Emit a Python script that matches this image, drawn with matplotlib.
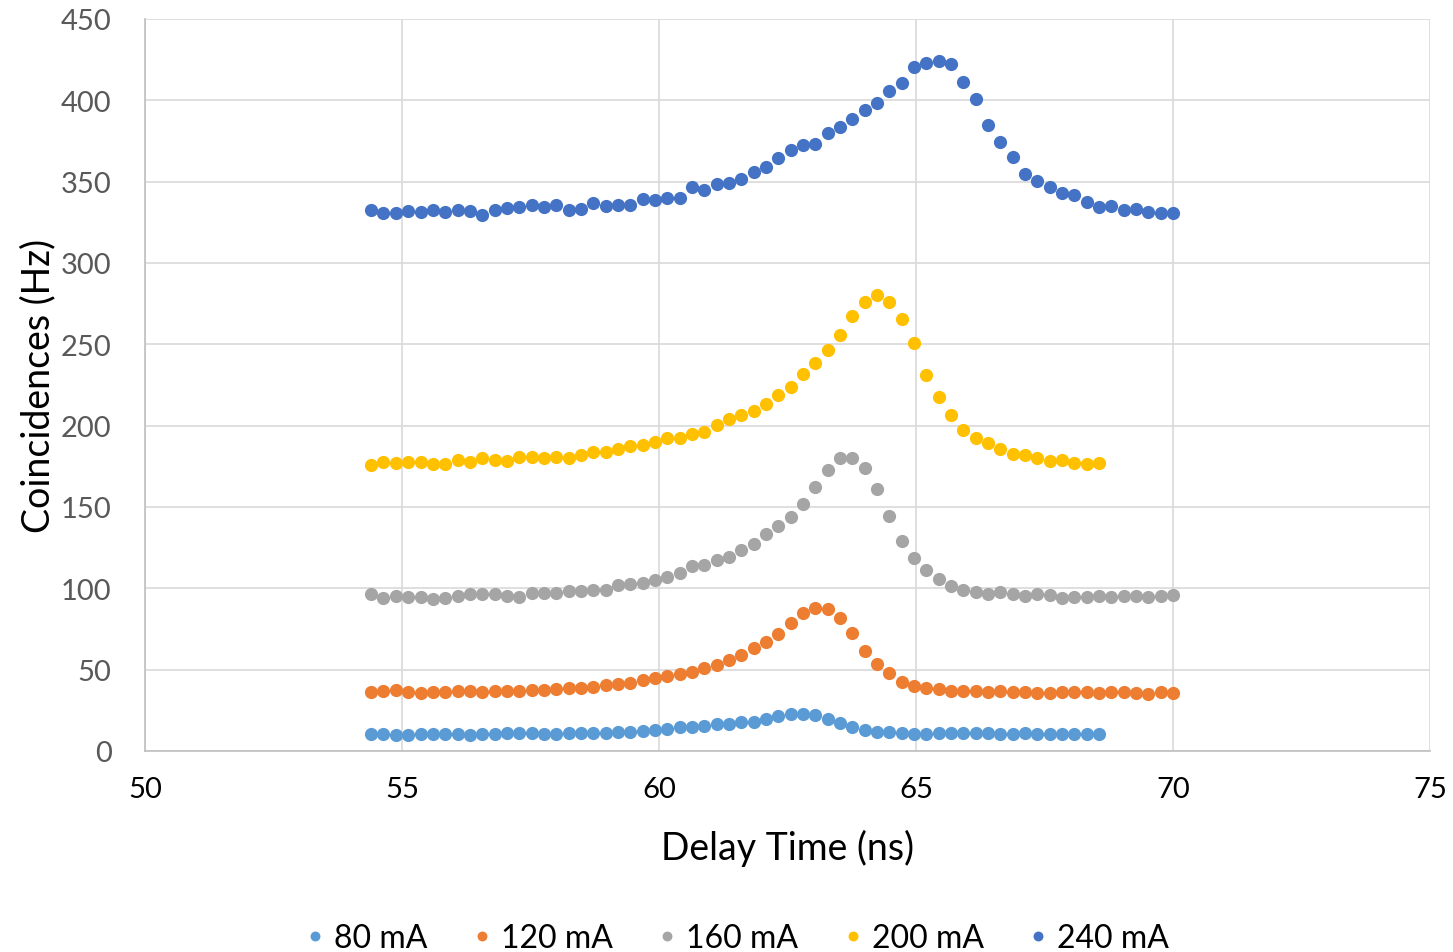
import numpy as np
import matplotlib
matplotlib.use("Agg")
import matplotlib.pyplot as plt

plt.rcParams['font.family'] = ['Lato', 'DejaVu Sans']

# delay time axis (ns): 0.24 ns steps from 54.4
x_long = 54.4 + 0.24 * np.arange(66)   # up to 70.0
x_short = x_long[:60]                  # up to 68.56

y_80 = [10.2, 10.5, 10.0, 10.0, 10.5, 10.5, 10.5, 10.5, 10.0, 10.2,
        10.7, 10.9, 10.9, 10.9, 10.5, 10.7, 11.1, 11.3, 11.3, 11.3,
        11.9, 11.7, 12.5, 12.9, 13.7, 14.8, 14.8, 15.6, 16.4, 16.6,
        17.6, 17.8, 19.9, 21.5, 22.9, 22.5, 22.1, 19.7, 17.0, 14.9,
        12.9, 11.5, 11.5, 10.9, 10.5, 10.5, 10.9, 10.9, 10.9, 10.9,
        10.9, 10.2, 10.7, 11.1, 10.5, 10.2, 10.2, 10.7, 10.2, 10.7]

y_120 = [36.5, 36.9, 37.5, 36.5, 35.9, 36.3, 36.1, 36.7, 36.7, 36.5,
         36.9, 36.9, 36.9, 37.3, 37.7, 38.1, 38.5, 38.7, 39.3, 40.6,
         41.2, 41.8, 43.8, 44.7, 45.9, 47.1, 48.8, 50.8, 53.1, 55.7,
         59.0, 63.1, 66.8, 72.1, 78.9, 84.6, 88.1, 87.3, 81.6, 72.5,
         61.3, 53.3, 47.8, 42.2, 40.0, 38.9, 38.1, 37.1, 36.7, 36.7,
         36.5, 36.7, 36.5, 36.5, 35.9, 35.9, 36.5, 36.5, 36.1, 35.9,
         36.3, 36.3, 35.9, 35.2, 36.3, 35.9]

y_160 = [96.5, 94.1, 95.1, 94.9, 94.5, 93.6, 94.3, 95.3, 96.5, 96.7,
         96.3, 95.1, 94.7, 97.3, 97.3, 97.1, 98.2, 98.6, 99.2, 99.2,
         102.3, 102.7, 103.3, 105.1, 107.2, 109.2, 113.5, 114.5, 117.2, 119.4,
         123.6, 127.2, 133.6, 138.1, 143.8, 152.0, 162.5, 172.9, 180.1, 180.1,
         174.2, 161.1, 144.5, 129.3, 118.6, 111.3, 105.7, 101.2, 98.8, 97.7,
         96.5, 97.5, 96.5, 95.5, 96.3, 96.1, 94.3, 94.7, 94.7, 95.3,
         94.7, 95.3, 95.1, 94.9, 95.3, 95.7]

y_200 = [175.8, 177.7, 177.3, 177.7, 177.5, 176.2, 176.4, 179.1, 177.9, 179.9,
         179.1, 178.5, 180.5, 180.9, 179.9, 180.9, 180.3, 182.2, 184.0, 183.6,
         185.9, 187.3, 187.9, 190.0, 192.4, 192.6, 194.9, 196.3, 200.4, 203.9,
         206.8, 208.9, 213.2, 218.6, 223.6, 231.6, 238.3, 246.7, 255.7, 267.6,
         275.8, 280.5, 275.8, 265.3, 250.6, 231.1, 217.4, 206.4, 197.3, 192.4,
         189.2, 185.7, 182.6, 182.2, 179.9, 178.5, 178.7, 176.9, 176.2, 176.9]

y_240 = [332.6, 330.7, 330.5, 332.0, 331.5, 332.4, 331.2, 332.4, 331.8, 329.5,
         332.8, 333.6, 334.2, 335.4, 334.2, 335.6, 332.4, 333.0, 336.7, 335.2,
         335.6, 335.4, 339.1, 339.0, 339.8, 340.2, 346.7, 345.1, 348.4, 349.0,
         351.8, 355.9, 359.0, 364.3, 369.2, 372.5, 372.9, 379.7, 383.8, 388.5,
         393.8, 398.5, 405.5, 410.6, 420.3, 423.1, 424.0, 422.3, 411.3, 400.6,
         385.0, 374.6, 364.9, 354.9, 350.2, 346.5, 343.2, 342.0, 337.5, 334.6,
         335.0, 332.4, 333.0, 331.1, 330.9, 330.9]

labels = ["80 mA", "120 mA", "160 mA", "200 mA", "240 mA"]
colors = ["#5B9BD5", "#ED7D31", "#A5A5A5", "#FFC000", "#4472C4"]
series = [(x_short, y_80), (x_long, y_120), (x_long, y_160),
          (x_short, y_200), (x_long, y_240)]

fig = plt.figure(figsize=(14.53, 9.53), dpi=100)
ax = fig.add_axes([145 / 1453, 1 - 752 / 953, 1285 / 1453, 732 / 953])

for (xs, ys), lab, c in zip(series, labels, colors):
    ax.plot(xs, ys, linestyle="none", marker="o", markersize=9.5,
            color=c, markeredgewidth=0, label=lab, zorder=3)

ax.set_xlim(50, 75)
ax.set_ylim(0, 450)
ax.set_xticks(np.arange(50, 76, 5))
ax.set_yticks(np.arange(0, 451, 50))
ax.grid(True, color="#D9D9D9", linewidth=1.2, zorder=0)
ax.set_axisbelow(True)

for side in ["top", "right"]:
    ax.spines[side].set_visible(False)
for side in ["left", "bottom"]:
    ax.spines[side].set_color("#BFBFBF")
    ax.spines[side].set_linewidth(1.2)

ax.tick_params(axis="both", length=0, labelsize=21)
ax.tick_params(axis="y", pad=24, labelcolor="#595959")
ax.tick_params(axis="x", pad=18, labelcolor="black")

ax.set_xlabel("Delay Time (ns)", fontsize=27, labelpad=19)
ax.set_ylabel("Coincidences (Hz)", fontsize=27, labelpad=3)

fig.legend(loc="center", bbox_to_anchor=(734 / 1453, 1 - 939 / 953), ncol=5,
           frameon=False, fontsize=23, markerscale=0.75, handletextpad=0.1,
           columnspacing=1.2, handlelength=1.0)

fig.savefig("out.png", dpi=100)
